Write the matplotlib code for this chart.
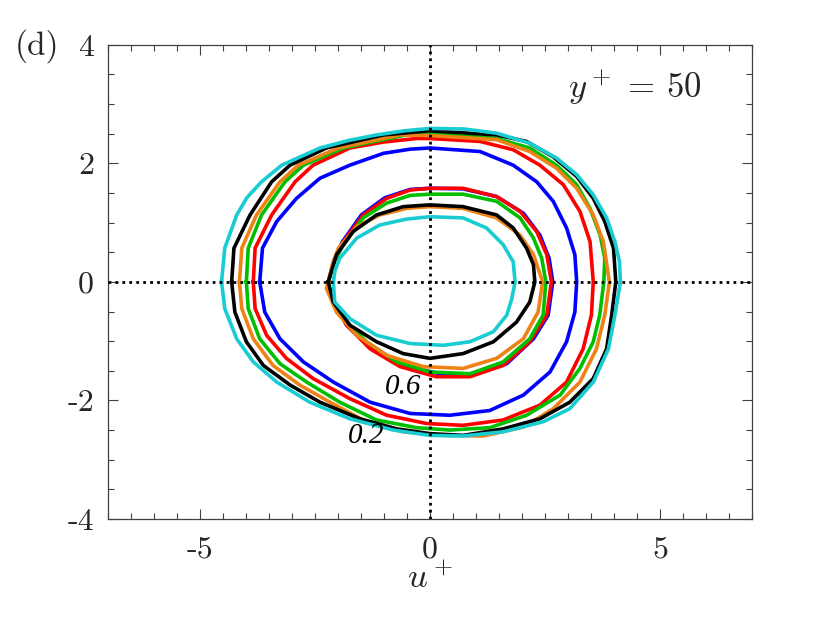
import numpy as np
import matplotlib
matplotlib.use('Agg')
import matplotlib.pyplot as plt

plt.rcParams['font.family'] = 'cmr10'
plt.rcParams['mathtext.fontset'] = 'cm'
plt.rcParams['axes.unicode_minus'] = False

# contour levels 0.2 (outer) and 0.6 (inner), one curve per case
cyan_02 = [(-4.53, 0.00), (-4.46, 0.57), (-4.20, 1.13), (-3.98, 1.42), (-3.66, 1.69), (-3.22, 1.97),
           (-2.39, 2.26), (-1.75, 2.39), (-1.16, 2.48), (-0.55, 2.55), (0.00, 2.59), (0.75, 2.58),
           (1.45, 2.51), (2.17, 2.34), (2.75, 2.09), (3.19, 1.81), (3.55, 1.47), (3.84, 1.08),
           (4.02, 0.68), (4.12, 0.34), (4.14, 0.00), (4.02, -0.56), (3.88, -1.13), (3.55, -1.69),
           (3.04, -2.14), (2.46, -2.36), (1.59, -2.53), (0.72, -2.60), (0.00, -2.59), (-0.80, -2.50),
           (-1.74, -2.31), (-2.61, -2.03), (-3.33, -1.69), (-3.84, -1.35), (-4.20, -0.96), (-4.46, -0.45)]
black_02 = [(-4.31, 0.00), (-4.26, 0.57), (-3.91, 1.13), (-3.44, 1.69), (-3.04, 1.97), (-2.25, 2.26),
            (-1.01, 2.48), (0.00, 2.55), (1.45, 2.48), (2.10, 2.37), (2.68, 2.11), (3.19, 1.78),
            (3.55, 1.41), (3.80, 1.02), (3.99, 0.57), (4.04, 0.00), (3.95, -0.56), (3.84, -1.13),
            (3.55, -1.63), (3.04, -2.03), (2.39, -2.31), (1.59, -2.48), (0.72, -2.59), (0.00, -2.56),
            (-0.72, -2.48), (-1.52, -2.31), (-2.39, -2.03), (-3.04, -1.74), (-3.62, -1.41),
            (-3.99, -1.01), (-4.24, -0.51)]
orange_02 = [(-4.14, 0.00), (-4.09, 0.57), (-3.77, 1.13), (-3.26, 1.69), (-2.86, 1.97), (-1.99, 2.26),
             (-0.65, 2.48), (0.00, 2.47), (1.45, 2.40), (2.17, 2.20), (2.75, 1.92), (3.19, 1.58),
             (3.55, 1.13), (3.77, 0.68), (3.90, 0.00), (3.80, -0.56), (3.62, -1.13), (3.26, -1.69),
             (2.68, -2.14), (2.03, -2.45), (1.16, -2.60), (0.29, -2.59), (-0.58, -2.53), (-1.38, -2.36),
             (-2.17, -2.03), (-2.83, -1.74), (-3.41, -1.41), (-3.84, -0.96), (-4.09, -0.45)]
green_02 = [(-3.99, 0.00), (-3.95, 0.57), (-3.66, 1.13), (-3.15, 1.69), (-2.75, 1.97), (-1.88, 2.26),
            (-0.58, 2.47), (0.00, 2.51), (1.45, 2.42), (2.17, 2.26), (2.75, 1.97), (3.19, 1.64),
            (3.48, 1.24), (3.70, 0.79), (3.80, 0.40), (3.78, 0.00), (3.69, -0.56), (3.55, -1.01),
            (3.26, -1.46), (2.83, -1.91), (2.10, -2.25), (1.30, -2.46), (0.43, -2.50), (-0.29, -2.46),
            (-1.16, -2.33), (-1.96, -2.03), (-2.68, -1.69), (-3.26, -1.38), (-3.70, -0.96), (-3.95, -0.45)]
red_02 = [(-3.84, 0.00), (-3.80, 0.57), (-3.44, 1.13), (-2.93, 1.69), (-2.54, 1.97), (-1.74, 2.26),
          (-1.01, 2.36), (-0.29, 2.42), (0.00, 2.42), (1.09, 2.37), (1.81, 2.23), (2.39, 1.97),
          (2.90, 1.64), (3.26, 1.19), (3.48, 0.68), (3.55, 0.00), (3.51, -0.56), (3.33, -1.13),
          (2.97, -1.69), (2.39, -2.08), (1.59, -2.33), (0.72, -2.42), (-0.07, -2.39), (-0.94, -2.25),
          (-1.74, -1.97), (-2.54, -1.63), (-3.12, -1.29), (-3.55, -0.90), (-3.80, -0.45)]
blue_02 = [(-3.70, 0.00), (-3.64, 0.57), (-3.33, 1.02), (-2.90, 1.41), (-2.39, 1.75), (-1.74, 1.97),
           (-1.01, 2.17), (-0.43, 2.24), (0.00, 2.26), (1.09, 2.20), (1.81, 1.97), (2.32, 1.69),
           (2.68, 1.36), (2.97, 0.91), (3.15, 0.46), (3.19, 0.00), (3.15, -0.51), (2.97, -1.01),
           (2.61, -1.52), (2.03, -1.91), (1.30, -2.17), (0.43, -2.25), (-0.43, -2.22), (-1.30, -2.03),
           (-2.10, -1.69), (-2.75, -1.35), (-3.26, -0.96), (-3.59, -0.51)]

red_06 = [(-2.21, 0.00), (-2.08, 0.36), (-1.88, 0.68), (-1.45, 1.13), (-0.94, 1.41), (-0.43, 1.55),
          (0.00, 1.58), (0.72, 1.58), (1.45, 1.44), (1.96, 1.19), (2.32, 0.85), (2.54, 0.46),
          (2.64, 0.00), (2.54, -0.56), (2.17, -1.01), (1.59, -1.41), (0.87, -1.60), (0.14, -1.60),
          (-0.65, -1.43), (-1.30, -1.13), (-1.81, -0.73), (-2.17, -0.23)]
blue_06 = [(-2.21, 0.00), (-2.09, 0.36), (-1.90, 0.68), (-1.49, 1.13), (-0.98, 1.42), (-0.43, 1.56),
           (0.00, 1.58), (0.72, 1.57), (1.45, 1.44), (2.03, 1.16), (2.39, 0.79), (2.59, 0.40),
           (2.67, 0.00), (2.57, -0.56), (2.25, -0.96), (1.67, -1.38), (0.94, -1.55), (0.22, -1.55),
           (-0.58, -1.41), (-1.30, -1.10), (-1.81, -0.73), (-2.17, -0.23)]
green_06 = [(-2.21, 0.00), (-2.08, 0.34), (-1.88, 0.63), (-1.45, 1.08), (-0.94, 1.33), (-0.43, 1.46),
            (0.00, 1.48), (0.72, 1.48), (1.45, 1.36), (1.96, 1.08), (2.25, 0.74), (2.43, 0.40),
            (2.52, 0.00), (2.46, -0.56), (2.17, -0.96), (1.59, -1.35), (0.87, -1.55), (0.00, -1.52),
            (-0.72, -1.35), (-1.38, -1.01), (-1.88, -0.62), (-2.17, -0.23)]
orange_06 = [(-2.21, 0.00), (-2.12, 0.30), (-1.99, 0.57), (-1.59, 0.93), (-1.09, 1.13), (-0.51, 1.24),
             (0.00, 1.27), (0.72, 1.24), (1.45, 1.08), (1.96, 0.79), (2.25, 0.46), (2.45, 0.00),
             (2.35, -0.51), (2.03, -0.96), (1.45, -1.29), (0.72, -1.46), (-0.14, -1.43),
             (-0.94, -1.24), (-1.59, -0.90), (-2.03, -0.51), (-2.25, -0.11)]
black_06 = [(-2.21, 0.00), (-2.03, 0.46), (-1.67, 0.85), (-1.16, 1.13), (-0.58, 1.27), (0.00, 1.30),
            (0.72, 1.27), (1.45, 1.13), (1.81, 0.91), (2.10, 0.57), (2.25, 0.29), (2.28, 0.00),
            (2.17, -0.34), (1.88, -0.68), (1.38, -1.01), (0.72, -1.21), (0.00, -1.29), (-0.58, -1.21),
            (-1.16, -1.01), (-1.74, -0.73), (-2.10, -0.34)]
cyan_06 = [(-2.10, 0.00), (-2.06, 0.20), (-1.96, 0.40), (-1.59, 0.74), (-1.09, 0.96), (-0.51, 1.06),
           (0.00, 1.10), (0.72, 1.08), (1.23, 0.91), (1.59, 0.63), (1.81, 0.34), (1.85, 0.00),
           (1.78, -0.28), (1.67, -0.56), (1.38, -0.84), (0.87, -1.01), (0.29, -1.07), (-0.43, -1.04),
           (-1.16, -0.90), (-1.74, -0.62), (-2.07, -0.34)]

# drawing order, bottom to top
curves = [(blue_02, blue_06, '#0000FF'),
          (red_02, red_06, '#FF0000'),
          (green_02, green_06, '#00BE00'),
          (orange_02, orange_06, '#EE8215'),
          (black_02, black_06, '#000000'),
          (cyan_02, cyan_06, '#19CCD2')]

fig = plt.figure(figsize=(8.3, 6.23), dpi=100)
ax = fig.add_axes([0.130, 0.167, 0.776, 0.761])

for outer, inner, col in curves:
    for pts in (outer, inner):
        p = np.array(pts + [pts[0]])
        ax.plot(p[:, 0], p[:, 1], color=col, lw=2.6, solid_joinstyle='round')

ax.axhline(0, color='k', ls=(0, (1, 1.5)), lw=2.0, zorder=5)
ax.axvline(0, color='k', ls=(0, (1, 1.5)), lw=2.0, zorder=5)

ax.set_xlim(-7, 7)
ax.set_ylim(-4, 4)
ax.set_xticks([-5, 0, 5], labels=['-5', '0', '5'])
ax.set_yticks([-4, -2, 0, 2, 4], labels=['-4', '-2', '0', '2', '4'])
ax.set_xticks(np.arange(-7, 7.01, 0.5), minor=True)
ax.set_yticks(np.arange(-4, 4.01, 0.5), minor=True)
ax.tick_params(which='both', direction='in', top=True, right=True, colors='#404040',
               labelcolor='#262626', labelsize=23, width=0.8)
ax.tick_params(which='major', length=7)
ax.tick_params(which='minor', length=4)
ax.tick_params(axis='x', pad=12)
ax.tick_params(axis='y', pad=10)
for s in ax.spines.values():
    s.set_color('#404040')
    s.set_linewidth(0.9)

fig.text(0.518, 0.070, r'$u^+$', fontsize=25, color='#262626', ha='center', va='center')
ax.text(4.45, 3.28, r'$y^+\,=\,50$', fontsize=25, ha='center', va='center', color='#262626')
ax.text(-0.59, -1.77, '0.6', fontsize=21, ha='center', va='center',
        family='Liberation Serif', style='italic')
ax.text(-1.39, -2.60, '0.2', fontsize=21, ha='center', va='center',
        family='Liberation Serif', style='italic')
fig.text(0.018, 0.926, '(d)', fontsize=24, ha='left', va='center', color='#262626')

fig.savefig('out.png', dpi=100)
